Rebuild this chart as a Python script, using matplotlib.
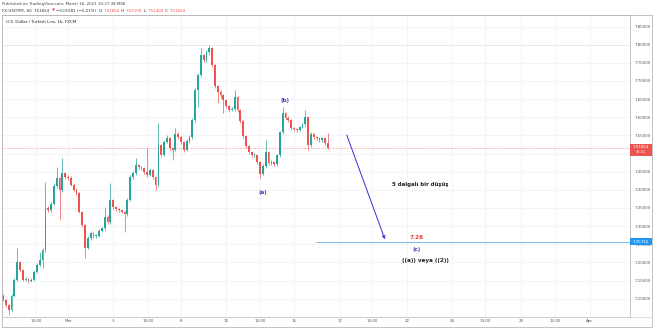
import numpy as np
import matplotlib
matplotlib.use("Agg")
import matplotlib.pyplot as plt
from matplotlib.patches import Rectangle

W, H = 654, 328

# ---------------- data ----------------
bar_start_hour = -69          # hours relative to Mar 1 00:00 (weekends compressed)
bar_step_hours = 3
first_open = 7.108
closes = [7.097, 7.083, 7.069, 7.108, 7.152, 7.201, 7.179, 7.152, 7.154, 7.149,
          7.152, 7.174, 7.193, 7.207, 7.234, 7.350, 7.344, 7.361, 7.411, 7.433,
          7.400, 7.446, 7.435, 7.433, 7.413, 7.400, 7.391, 7.339, 7.303, 7.240,
          7.267, 7.281, 7.273, 7.273, 7.287, 7.295, 7.325, 7.311, 7.372, 7.353,
          7.347, 7.344, 7.339, 7.333, 7.372, 7.435, 7.446, 7.468, 7.463, 7.460,
          7.449, 7.441, 7.455, 7.435, 7.413, 7.524, 7.496, 7.532, 7.543, 7.515,
          7.510, 7.554, 7.546, 7.532, 7.510, 7.535, 7.546, 7.592, 7.675, 7.716,
          7.771, 7.758, 7.780, 7.791, 7.744, 7.686, 7.670, 7.661, 7.648, 7.631,
          7.620, 7.623, 7.656, 7.620, 7.590, 7.548, 7.521, 7.504, 7.496, 7.496,
          7.477, 7.444, 7.466, 7.504, 7.474, 7.477, 7.471, 7.496, 7.559, 7.612,
          7.598, 7.592, 7.570, 7.568, 7.565, 7.573, 7.581, 7.601, 7.524, 7.554,
          7.546, 7.543, 7.537, 7.543, 7.529, 7.5165]
highs = [7.114, 7.100, 7.086, 7.112, 7.158, 7.240, 7.205, 7.183, 7.160, 7.158,
         7.157, 7.178, 7.198, 7.229, 7.240, 7.422, 7.356, 7.366, 7.418, 7.463,
         7.436, 7.488, 7.450, 7.440, 7.437, 7.418, 7.404, 7.395, 7.342, 7.306,
         7.272, 7.286, 7.285, 7.279, 7.291, 7.299, 7.353, 7.330, 7.419, 7.376,
         7.356, 7.350, 7.347, 7.341, 7.378, 7.440, 7.452, 7.488, 7.472, 7.466,
         7.463, 7.515, 7.460, 7.458, 7.438, 7.584, 7.527, 7.537, 7.550, 7.546,
         7.518, 7.570, 7.558, 7.549, 7.535, 7.540, 7.550, 7.598, 7.680, 7.722,
         7.791, 7.775, 7.785, 7.799, 7.793, 7.748, 7.690, 7.674, 7.664, 7.650,
         7.634, 7.627, 7.675, 7.658, 7.624, 7.592, 7.550, 7.523, 7.508, 7.502,
         7.499, 7.479, 7.470, 7.537, 7.506, 7.481, 7.479, 7.499, 7.562, 7.628,
         7.614, 7.604, 7.594, 7.574, 7.570, 7.576, 7.585, 7.620, 7.603, 7.558,
         7.556, 7.549, 7.545, 7.546, 7.546, 7.557]
lows = [7.093, 7.078, 7.055, 7.066, 7.104, 7.148, 7.175, 7.149, 7.148, 7.144,
        7.146, 7.149, 7.170, 7.190, 7.185, 7.230, 7.338, 7.340, 7.357, 7.406,
        7.317, 7.395, 7.430, 7.428, 7.410, 7.396, 7.386, 7.335, 7.298, 7.212,
        7.236, 7.263, 7.268, 7.266, 7.270, 7.284, 7.290, 7.306, 7.307, 7.348,
        7.341, 7.339, 7.335, 7.284, 7.328, 7.368, 7.430, 7.442, 7.458, 7.455,
        7.444, 7.436, 7.437, 7.430, 7.400, 7.410, 7.490, 7.492, 7.528, 7.510,
        7.482, 7.506, 7.541, 7.527, 7.505, 7.507, 7.530, 7.540, 7.588, 7.628,
        7.710, 7.752, 7.753, 7.775, 7.738, 7.680, 7.639, 7.654, 7.612, 7.625,
        7.614, 7.616, 7.618, 7.615, 7.585, 7.543, 7.515, 7.498, 7.490, 7.490,
        7.471, 7.433, 7.440, 7.460, 7.468, 7.469, 7.465, 7.466, 7.490, 7.553,
        7.592, 7.586, 7.564, 7.561, 7.560, 7.562, 7.570, 7.577, 7.510, 7.518,
        7.540, 7.538, 7.532, 7.533, 7.524, 7.512]

price_ticks = [7.10, 7.15, 7.20, 7.25, 7.30, 7.35, 7.40, 7.45, 7.50,
               7.55, 7.60, 7.65, 7.70, 7.75, 7.80, 7.85]
price_tick_labels = ["7.10000", "7.15000", "7.20000", "7.25000", "7.30000", "7.35000",
                     "7.40000", "7.45000", "", "7.55000", "7.60000", "7.65000",
                     "7.70000", "7.75000", "7.80000", "7.85000"]
time_tick_pos = [-34, 0, 48, 85, 120, 168, 204, 240, 289, 323, 360, 408, 443, 481, 517, 554]
time_tick_labels = ["13:00", "Mar", "3", "10:00", "8", "10", "12:00", "15",
                    "17", "13:00", "22", "24", "13:00", "29", "12:00", "Apr"]

last_price = 7.51654
high_line_price = 7.799
target_price = 7.25742
target_start_hour = 263
arrow_start = (296, 7.551)
arrow_end = (336.5, 7.264)

UP = "#26a69a"
DOWN = "#ef5350"
WAVE = "#3b3bb5"

# ---------------- figure ----------------
fig = plt.figure(figsize=(W / 100, H / 100), dpi=100)
fig.patch.set_facecolor("white")
L, R, T, B = 2, 630, 15, 317
ax = fig.add_axes([L / W, 1 - B / H, (R - L) / W, (B - T) / H])
ax.set_xlim(-70.1, 596.8)
ax.set_ylim(7.0497, 7.8817)
ax.set_facecolor("white")

ax.set_yticks(price_ticks)
ax.set_yticklabels(price_tick_labels)
ax.yaxis.tick_right()
ax.set_xticks(time_tick_pos)
ax.set_xticklabels(time_tick_labels)
ax.tick_params(axis="y", length=0, pad=3.2, labelsize=2.9, labelcolor="#555555")
ax.tick_params(axis="x", length=0, pad=1.6, labelsize=2.9, labelcolor="#555555")
ax.grid(True, color="#eef0f4", lw=0.5, zorder=0)
for s in ax.spines.values():
    s.set_color("#b8b8b8")
    s.set_linewidth(0.6)

# candles
x = bar_start_hour + bar_step_hours * np.arange(len(closes))
o = np.array([first_open] + closes[:-1])
c = np.array(closes)
colors = np.where(c >= o, UP, DOWN)
ax.vlines(x, lows, highs, colors=colors, lw=0.5, zorder=3)
ax.bar(x, np.maximum(np.abs(c - o), 0.0025), bottom=np.minimum(o, c), width=1.9,
       color=colors, lw=0, zorder=4)

# lines
ax.axhline(high_line_price, color="#cfcfcf", lw=0.6, zorder=1)
ax.axhline(last_price, color=DOWN, lw=0.5, ls=(0, (1, 1)), alpha=0.7, zorder=2)
ax.hlines(target_price, target_start_hour, 596.8, color="#7fb3e8", lw=0.7, zorder=2)
ax.annotate("", xy=arrow_end, xytext=arrow_start,
            arrowprops=dict(arrowstyle="->", color="#2f2fd6", lw=0.7, mutation_scale=5,
                            shrinkA=0, shrinkB=0), zorder=5)

renderer = fig.canvas.get_renderer()


def fit(t, width_px):
    bb = t.get_window_extent(renderer)
    t.set_fontsize(t.get_fontsize() * width_px / bb.width)
    return t


fit(ax.text(230.4, 7.6475, "(b)", color=WAVE, ha="center", va="center", fontsize=5,
            fontweight="bold"), 9)
fit(ax.text(207.1, 7.394, "(a)", color=WAVE, ha="center", va="center", fontsize=5,
            fontweight="bold"), 8.5)
fit(ax.text(373.8, 7.416, "5 dalgalı bir düşüş", color="#222222", ha="center", va="center",
            fontsize=5, fontweight="bold"), 58)
fit(ax.text(370.6, 7.268, "7.26", color="#e53935", ha="center", va="center", fontsize=5,
            fontweight="bold"), 14)
fit(ax.text(370.6, 7.237, "(c)", color=WAVE, ha="center", va="center", fontsize=5,
            fontweight="bold"), 8)
fit(ax.text(379.1, 7.204, "((a)) veya ((2))", color="#222222", ha="center", va="center",
            fontsize=5, fontweight="bold"), 47)

# header
h1 = fig.text(2 / W, 1 - 4 / H, "Published on TradingView.com, March 16, 2021 10:27:38 MSK",
              color="#444444", ha="left", va="center", fontsize=4)
fit(h1, 123)
hfs = h1.get_fontsize()
pieces = [("FX:USDTRY, 60", "#333333"), ("7.51654", "#333333"), ("▼", DOWN),
          ("−0.01581 (−0.21%)", "#333333"), ("O:", "#333333"), ("7.51864", DOWN),
          ("H:", "#333333"), ("7.52199", DOWN), ("L:", "#333333"), ("7.51404", DOWN),
          ("C:", "#333333"), ("7.51654", DOWN)]
gaps = [2.5, 1.2, 1.2, 2.5, 0.6, 1.2, 0.6, 1.2, 0.6, 1.2, 0.6, 0]
xp = 2
for (s, col), g in zip(pieces, gaps):
    t = fig.text(xp / W, 1 - 10.5 / H, s, color=col, ha="left", va="center", fontsize=hfs)
    xp += t.get_window_extent(renderer).width + g
leg = fig.text(6.5 / W, 1 - 22 / H, "U.S. Dollar / Turkish Lira, 1h, FXCM", color="#222222",
               ha="left", va="center", fontsize=4)
fit(leg, 70)

# price labels on axis
def py(p):
    return ax.transData.transform((0, p))[1]

yl = py(last_price)
fig.add_artist(Rectangle((R / W, (yl - 8) / H), 22 / W, 12 / H, transform=fig.transFigure,
                         facecolor=DOWN, edgecolor="none", zorder=10))
fig.text((R + 11) / W, (yl + 1) / H, f"{last_price:.5f}", color="white", ha="center",
         va="center", fontsize=2.9, zorder=11)
fig.text((R + 11) / W, (yl - 4.8) / H, "32:21", color="white", ha="center",
         va="center", fontsize=2.5, zorder=11)
yt = py(target_price)
fig.add_artist(Rectangle((R / W, (yt - 3.3) / H), 22 / W, 6.6 / H, transform=fig.transFigure,
                         facecolor="#2196f3", edgecolor="none", zorder=10))
fig.text((R + 11) / W, yt / H, f"{target_price:.5f}", color="white", ha="center",
         va="center", fontsize=2.9, zorder=11)

# outer frame
fig.add_artist(Rectangle((L / W, 1 - 327 / H), (652 - L) / W, (327 - T) / H,
                         transform=fig.transFigure, facecolor="none",
                         edgecolor="#b8b8b8", lw=0.6))
fig.add_artist(plt.Line2D([L / W, 652 / W], [1 - B / H, 1 - B / H],
                          transform=fig.transFigure, color="#d0d0d0", lw=0.5))

fig.savefig("out.png", dpi=100)
